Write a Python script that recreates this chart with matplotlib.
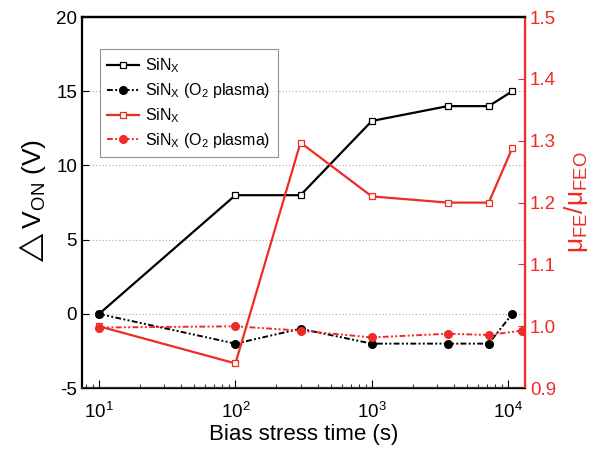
import matplotlib
matplotlib.use("Agg")
import matplotlib.pyplot as plt

plt.rcParams["font.family"] = ["Liberation Sans", "DejaVu Sans"]
plt.rcParams["mathtext.fontset"] = "custom"
plt.rcParams["mathtext.rm"] = "Liberation Sans"
plt.rcParams["mathtext.it"] = "Liberation Sans:italic"
plt.rcParams["mathtext.fallback"] = "stixsans"
plt.rcParams["axes.unicode_minus"] = False

# ── Data ──
t_black = [10, 100, 300, 1000, 3600, 7200, 10700]
dvon_sinx = [0, 8, 8, 13, 14, 14, 15]
dvon_o2 = [0, -2, -1, -2, -2, -2, 0]

t_red = [10, 100, 300, 1000, 3600, 7200, 10700]
t_red_o2 = [10, 100, 300, 1000, 3600, 7200, 12600]
mu_sinx = [1.0, 0.94, 1.297, 1.21, 1.2, 1.2, 1.288]
mu_o2 = [0.998, 1.0, 0.993, 0.982, 0.988, 0.986, 0.993]

RED = "#ee2b24"
dashdotdot = (0, (3, 1.2, 1, 1.2, 1, 1.2))

fig = plt.figure(figsize=(6.12, 4.61), dpi=100)
ax = fig.add_axes([0.134, 0.158, 0.724, 0.805])
ax2 = ax.twinx()

# left axis (ΔV_ON)
l1, = ax.plot(t_black, dvon_sinx, color="black", lw=1.6, marker="s", ms=5,
              mfc="white", mec="black", mew=0.9, label=r"SiN$_\mathregular{X}$")
l2, = ax.plot(t_black, dvon_o2, color="black", lw=1.4, ls=dashdotdot, marker="o",
              ms=5.5, label=r"SiN$_\mathregular{X}$ (O$_\mathregular{2}$ plasma)")

# right axis (mobility ratio)
l3, = ax2.plot(t_red, mu_sinx, color=RED, lw=1.6, marker="s", ms=5,
               mfc="white", mec=RED, mew=0.9, label=r"SiN$_\mathregular{X}$")
l4, = ax2.plot(t_red_o2, mu_o2, color=RED, lw=1.4, ls=dashdotdot, marker="o",
               ms=5.5, label=r"SiN$_\mathregular{X}$ (O$_\mathregular{2}$ plasma)")

ax.set_xscale("log")
ax.set_xlim(7.5, 13300)
ax.set_ylim(-5, 20)
ax.set_yticks([-5, 0, 5, 10, 15, 20])
ax2.set_ylim(0.9, 1.5)
ax2.set_yticks([0.9, 1.0, 1.1, 1.2, 1.3, 1.4, 1.5])
ax2.set_yticklabels(["0.9", "1.0", "1.1", "1.2", "1.3", "1.4", "1.5"])

for y in [0, 5, 10, 15]:
    ax.axhline(y, color="#aaaaaa", lw=0.8, ls=(0, (1, 2)), zorder=0)

ax.tick_params(axis="both", which="both", direction="in", labelsize=13.5)
ax.tick_params(axis="x", which="major", length=6, pad=10)
ax.tick_params(axis="x", which="minor", length=3)
ax.tick_params(axis="y", length=5)
ax.tick_params(top=False, which="both")
ax2.tick_params(axis="y", direction="in", length=5, colors=RED, labelsize=13.5)

for s in ["left", "top", "bottom"]:
    ax.spines[s].set_linewidth(1.6)
ax.spines["bottom"].set_color("#333333")
ax2.spines["right"].set_color(RED)
ax2.spines["right"].set_linewidth(1.6)
ax2.spines["left"].set_visible(False)
ax2.spines["top"].set_linewidth(1.6)

ax.set_xlabel("Bias stress time (s)", fontsize=16, labelpad=1)
ax.set_ylabel(r"$\mathregular{\triangle}$V$_\mathregular{ON}$ (V)", fontsize=19, labelpad=6)
ax2.set_ylabel(r"$\mathregular{\mu_{FE}/\mu_{FEO}}$", fontsize=19, color=RED, labelpad=4)

leg = ax.legend(handles=[l1, l2, l3, l4], loc="upper left",
                bbox_to_anchor=(0.022, 0.935), fontsize=11.5, frameon=True,
                fancybox=False, edgecolor="#777777", handlelength=2.0,
                handletextpad=0.4, borderpad=0.45, labelspacing=0.38)
leg.get_frame().set_linewidth(0.8)
leg.set_zorder(5)

fig.savefig("out.png", dpi=100)
